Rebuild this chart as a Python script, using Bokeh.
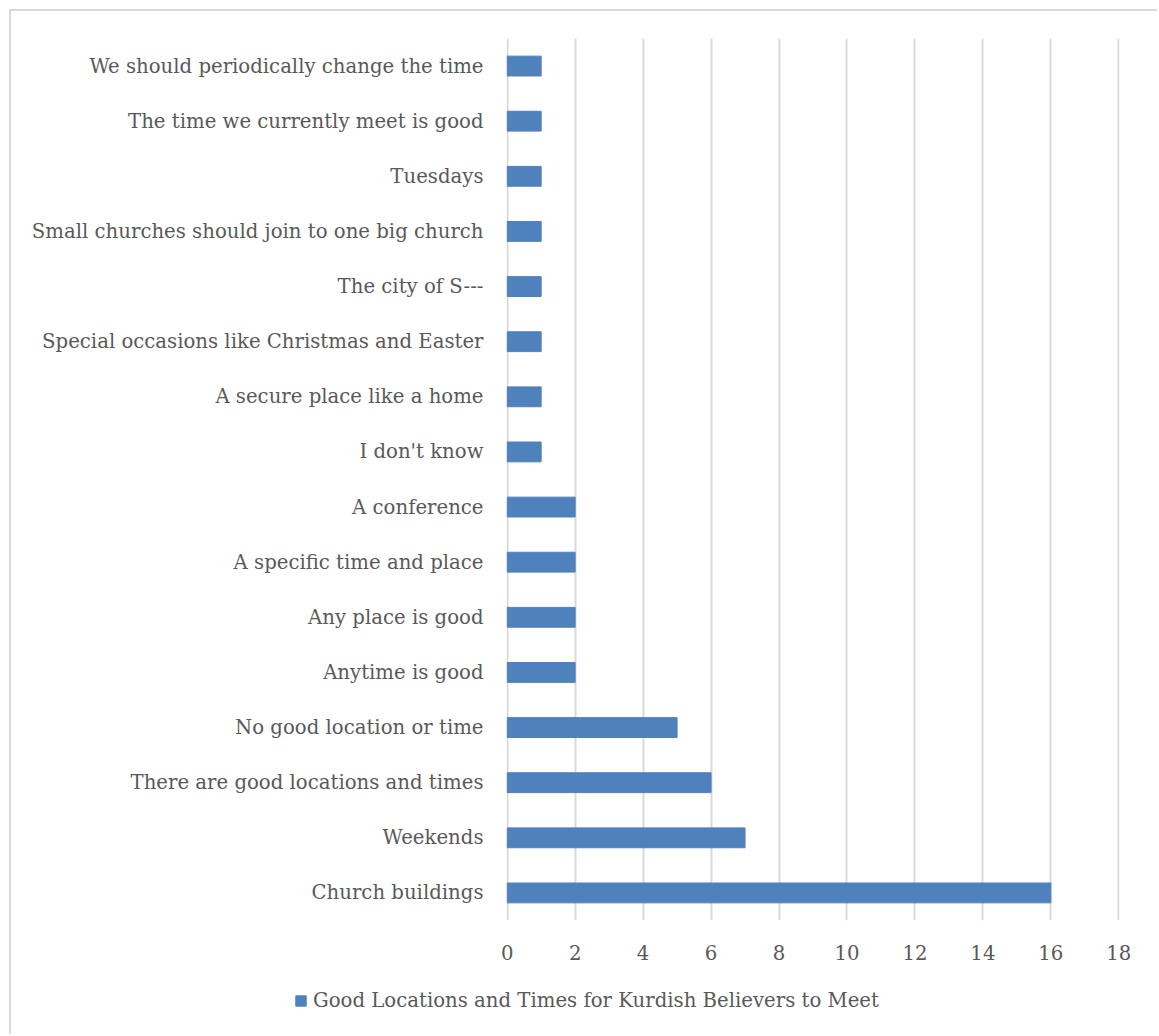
from bokeh.plotting import figure
from bokeh.layouts import column, row
from bokeh.models import FactorRange, Range1d, Legend, LegendItem, ColumnDataSource
from bokeh.embed import file_html
from bokeh.resources import INLINE

categories = [
    "We should periodically change the time",
    "The time we currently meet is good",
    "Tuesdays",
    "Small churches should join to one big church",
    "The city of S---",
    "Special occasions like Christmas and Easter",
    "A secure place like a home",
    "I don't know",
    "A conference",
    "A specific time and place",
    "Any place is good",
    "Anytime is good",
    "No good location or time",
    "There are good locations and times",
    "Weekends",
    "Church buildings",
]
values = [1, 1, 1, 1, 1, 1, 1, 1, 2, 2, 2, 2, 5, 6, 7, 16]
series_name = "Good Locations and Times for Kurdish Believers to Meet"
x_ticks = [0, 2, 4, 6, 8, 10, 12, 14, 16, 18]

FONT = "DejaVu Serif"
TXT = "#595959"
BAR = "#4f81bd"

src = ColumnDataSource(dict(cat=categories, val=values))

p = figure(
    width=1148, height=964,
    y_range=FactorRange(factors=list(reversed(categories)), range_padding=0),
    x_range=Range1d(-0.02, 18.02),
    output_backend="svg", toolbar_location=None,
    min_border_left=495, min_border_right=40, min_border_top=27, min_border_bottom=55,
    margin=(9, 0, 0, 9),
    styles={"border-top": "2px solid #d9d9d9", "border-left": "2px solid #d9d9d9"},
)
p.outline_line_color = None
p.background_fill_color = "white"
p.border_fill_color = "white"

p.hbar(y="cat", right="val", left=0, height=0.36, source=src,
       fill_color=BAR, line_color=BAR)

p.xaxis.ticker = x_ticks
p.xaxis.axis_line_color = None
p.xaxis.major_tick_line_color = None
p.xaxis.minor_tick_line_color = None
p.xaxis.major_label_text_font = FONT
p.xaxis.major_label_text_font_size = "19.7px"
p.xaxis.major_label_text_color = TXT
p.xaxis.major_label_standoff = 18

p.yaxis.axis_line_color = None
p.yaxis.major_tick_line_color = None
p.yaxis.major_label_text_font = FONT
p.yaxis.major_label_text_font_size = "19.7px"
p.yaxis.major_label_text_color = TXT
p.yaxis.major_label_standoff = 17

p.ygrid.grid_line_color = None
p.xgrid.grid_line_color = "#d9d9d9"
p.xgrid.grid_line_width = 2

# Legend strip below the chart (same series; its glyphs are hidden here)
pl = figure(
    width=1148, height=61,
    y_range=FactorRange(factors=list(reversed(categories))),
    x_range=Range1d(0, 18),
    output_backend="svg", toolbar_location=None,
    min_border_left=0, min_border_right=0, min_border_top=0, min_border_bottom=0,
    margin=(0, 0, 0, 9),
    styles={"border-left": "2px solid #d9d9d9"},
)
pl.axis.visible = False
pl.grid.grid_line_color = None
pl.outline_line_color = None
rl = pl.hbar(y="cat", right="val", left=0, height=0.36, source=src,
             fill_color=BAR, line_color=BAR, visible=False)

legend = Legend(items=[LegendItem(label=series_name, renderers=[rl])],
                location=(283, 22), orientation="horizontal",
                label_text_font=FONT, label_text_font_size="19.7px",
                label_text_color=TXT, glyph_width=13, glyph_height=13,
                label_standoff=6, border_line_color=None, background_fill_alpha=0,
                inactive_fill_alpha=0, padding=0, margin=0)
pl.add_layout(legend, "center")

layout = column(p, row(pl, spacing=0), spacing=0)
open("out.html", "w").write(file_html(layout, INLINE))
